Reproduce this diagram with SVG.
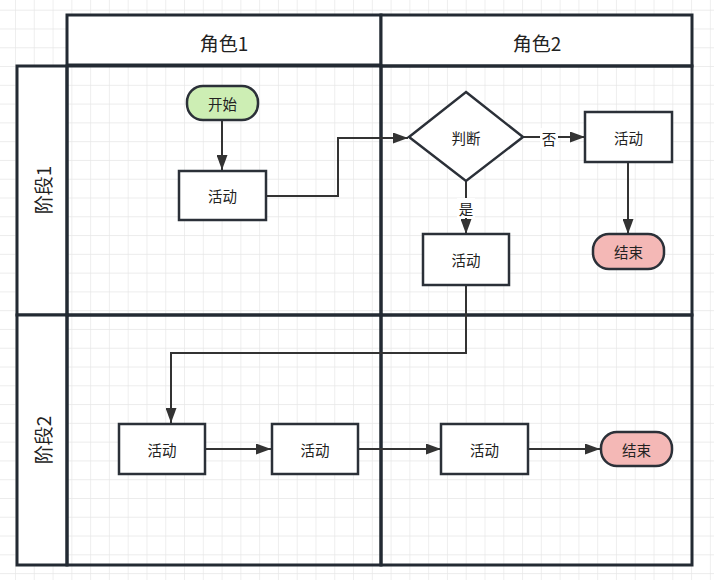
<svg xmlns="http://www.w3.org/2000/svg" width="714" height="580" viewBox="0 0 714 580">
<style>
.lane{fill:none;stroke:#232a33;stroke-width:3}
.hdr{fill:#ffffff;stroke:#232a33;stroke-width:3}
.node{stroke:#2b3038;stroke-width:2.5}
.t{font-family:"Noto Sans CJK SC","Noto Sans",sans-serif;fill:#222;text-anchor:middle;dominant-baseline:central}
.tn{font-size:14.5px}
.th{font-size:19px}
.edge{fill:none;stroke:#333333;stroke-width:2}
</style>
<defs>
<pattern id="grid" x="15" y="9.7" width="18.78" height="18.78" patternUnits="userSpaceOnUse">
<path d="M0 0H18.78M0 0V18.78" fill="none" stroke="#e6e6e6" stroke-width="1.3"/>
</pattern>
<marker id="arr" viewBox="0 0 15 11" refX="15" refY="5.5" markerWidth="15" markerHeight="11" markerUnits="userSpaceOnUse" orient="auto">
<path d="M0 0L15 5.5L0 11Z" fill="#333333"/>
</marker>
</defs>
<rect width="714" height="580" fill="#ffffff"/>
<rect width="714" height="580" fill="url(#grid)"/>

<g id="pool">
<rect class="hdr" x="67" y="15" width="314" height="50"/>
<rect class="hdr" x="381" y="15" width="311" height="51"/>
<rect class="hdr" x="17" y="66" width="50" height="249"/>
<rect class="hdr" x="17" y="315" width="50" height="250"/>
<rect class="lane" x="67" y="66" width="314" height="249"/>
<rect class="lane" x="381" y="66" width="311" height="249"/>
<rect class="lane" x="67" y="315" width="314" height="250"/>
<rect class="lane" x="381" y="315" width="311" height="250"/>
<text class="t th" x="224" y="42">角色1</text>
<text class="t th" x="537" y="42">角色2</text>
<text class="t th" transform="translate(42 190) rotate(-90)">阶段1</text>
<text class="t th" transform="translate(42 440) rotate(-90)">阶段2</text>
</g>

<g id="edges">
<path class="edge" d="M222 120V170" marker-end="url(#arr)"/>
<path class="edge" d="M266 196H338V138H408" marker-end="url(#arr)"/>
<path class="edge" d="M523 137H585" marker-end="url(#arr)"/>
<path class="edge" d="M466 181V234" marker-end="url(#arr)"/>
<path class="edge" d="M628 162V234" marker-end="url(#arr)"/>
<path class="edge" d="M466 285V353H171V423" marker-end="url(#arr)"/>
<path class="edge" d="M205 449H271" marker-end="url(#arr)"/>
<path class="edge" d="M358 449H441" marker-end="url(#arr)"/>
<path class="edge" d="M528 449H600" marker-end="url(#arr)"/>
<rect x="540" y="128" width="18" height="20" fill="#ffffff"/>
<text class="t tn" x="549" y="138">否</text>
<rect x="457" y="198" width="18" height="20" fill="#ffffff"/>
<text class="t tn" x="466" y="208">是</text>
</g>

<g id="start">
<rect class="node" x="187" y="86" width="71" height="34" rx="16" fill="#cdeeb4"/>
<text class="t tn" x="222.5" y="103">开始</text>
</g>
<g id="act1">
<rect class="node" x="179" y="171" width="87" height="49" fill="#ffffff"/>
<text class="t tn" x="222.5" y="195.5">活动</text>
</g>
<g id="decision">
<path class="node" d="M466 92L523 137L466 181L409 137Z" fill="#ffffff"/>
<text class="t tn" x="466" y="137">判断</text>
</g>
<g id="act2">
<rect class="node" x="585" y="112" width="87" height="50" fill="#ffffff"/>
<text class="t tn" x="628.5" y="137">活动</text>
</g>
<g id="end1">
<rect class="node" x="593" y="234" width="71" height="35" rx="16" fill="#f4b8b6"/>
<text class="t tn" x="628.5" y="251.5">结束</text>
</g>
<g id="act3">
<rect class="node" x="423" y="234" width="86" height="51" fill="#ffffff"/>
<text class="t tn" x="466" y="259.5">活动</text>
</g>
<g id="act4">
<rect class="node" x="119" y="424" width="86" height="50" fill="#ffffff"/>
<text class="t tn" x="162" y="449">活动</text>
</g>
<g id="act5">
<rect class="node" x="272" y="424" width="86" height="50" fill="#ffffff"/>
<text class="t tn" x="315" y="449">活动</text>
</g>
<g id="act6">
<rect class="node" x="441" y="424" width="87" height="50" fill="#ffffff"/>
<text class="t tn" x="484.5" y="449">活动</text>
</g>
<g id="end2">
<rect class="node" x="601" y="432" width="71" height="34" rx="16" fill="#f4b8b6"/>
<text class="t tn" x="636.5" y="449">结束</text>
</g>
</svg>
